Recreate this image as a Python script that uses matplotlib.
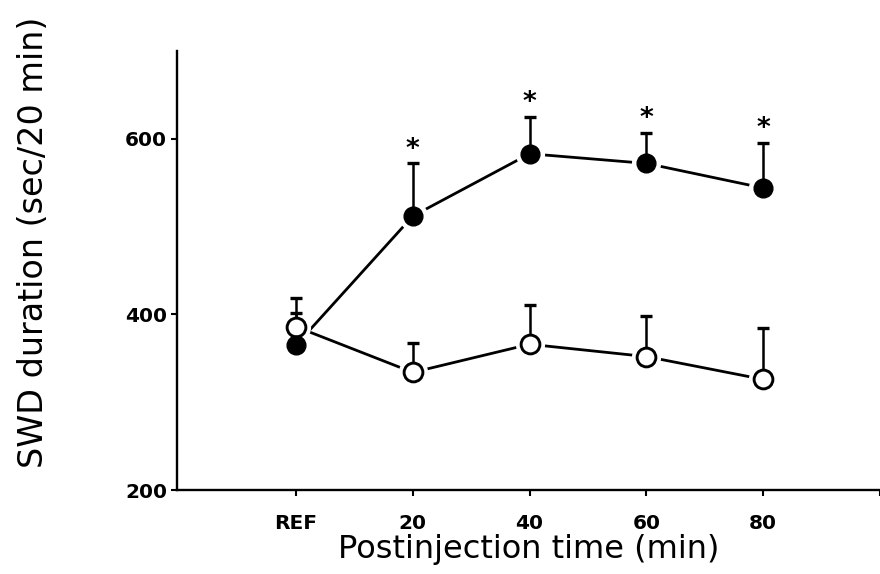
import matplotlib
matplotlib.use("Agg")
import matplotlib.pyplot as plt

# Postinjection time points (REF = pre-injection reference)
time_labels = ["REF", "20", "40", "60", "80", ""]
positions = [0, 1, 2, 3, 4]

# SWD duration, sec per 20 min (mean and upper SEM)
drug_mean = [365, 512, 583, 572, 544]
drug_sem = [37, 60, 42, 35, 51]
control_mean = [386, 334, 366, 352, 326]
control_sem = [33, 33, 45, 46, 58]
significant = [False, True, True, True, True]

fig = plt.figure(figsize=(8.8, 5.74), dpi=100)
ax = fig.add_axes([0.201, 0.1463, 0.799, 0.7648])

line_kw = dict(color="black", lw=2.0, zorder=1)
ax.plot(positions, drug_mean, **line_kw)
ax.plot(positions, control_mean, **line_kw)

# white halo around markers so the lines stop short of the symbols
for means in (drug_mean, control_mean):
    ax.plot(positions, means, ls="none", marker="o", ms=20,
            mfc="white", mec="white", zorder=2)

err_kw = dict(fmt="none", ecolor="black", elinewidth=1.8, capsize=4,
              capthick=2.4, zorder=3)
ax.errorbar(positions, control_mean, yerr=[[0] * 5, control_sem], **err_kw)
ax.errorbar(positions, drug_mean, yerr=[[0] * 5, drug_sem], **err_kw)

ax.plot(positions, control_mean, ls="none", marker="o", ms=13.5,
        mfc="white", mec="black", mew=2.1, zorder=4)
ax.plot(positions, drug_mean, ls="none", marker="o", ms=13.5,
        mfc="black", mec="black", mew=1.0, zorder=5)

for x, m, s, sig in zip(positions, drug_mean, drug_sem, significant):
    if sig:
        ax.annotate("*", (x, m + s), xytext=(0, 10), textcoords="offset points",
                    ha="center", va="center", fontsize=19, fontweight="bold",
                    family="DejaVu Sans")

ax.set_xlim(-1.02, 5)
ax.set_ylim(200, 700)
ax.set_xticks([0, 1, 2, 3, 4, 5])
ax.set_xticklabels(time_labels, family="DejaVu Sans",
                   fontweight="bold", fontsize=14.5)
ax.set_yticks([200, 400, 600])
ax.set_yticklabels(["200", "400", "600"], family="DejaVu Sans",
                   fontweight="bold", fontsize=14.5)
ax.tick_params(axis="both", direction="out", length=4.5, width=1.5,
               colors="black")
ax.tick_params(axis="y", pad=2.5)
ax.tick_params(axis="x", pad=13)

for side in ("top", "right"):
    ax.spines[side].set_visible(False)
for side in ("left", "bottom"):
    ax.spines[side].set_linewidth(1.7)
    ax.spines[side].set_color("black")

ax.set_xlabel("Postinjection time (min)", fontsize=23, family="DejaVu Sans")
ax.xaxis.set_label_coords(0.5, -0.1)
ax.set_ylabel("SWD duration (sec/20 min)", fontsize=24, family="DejaVu Sans")
ax.yaxis.set_label_coords(-0.18, 0.565)

fig.savefig("out.png", dpi=100)
